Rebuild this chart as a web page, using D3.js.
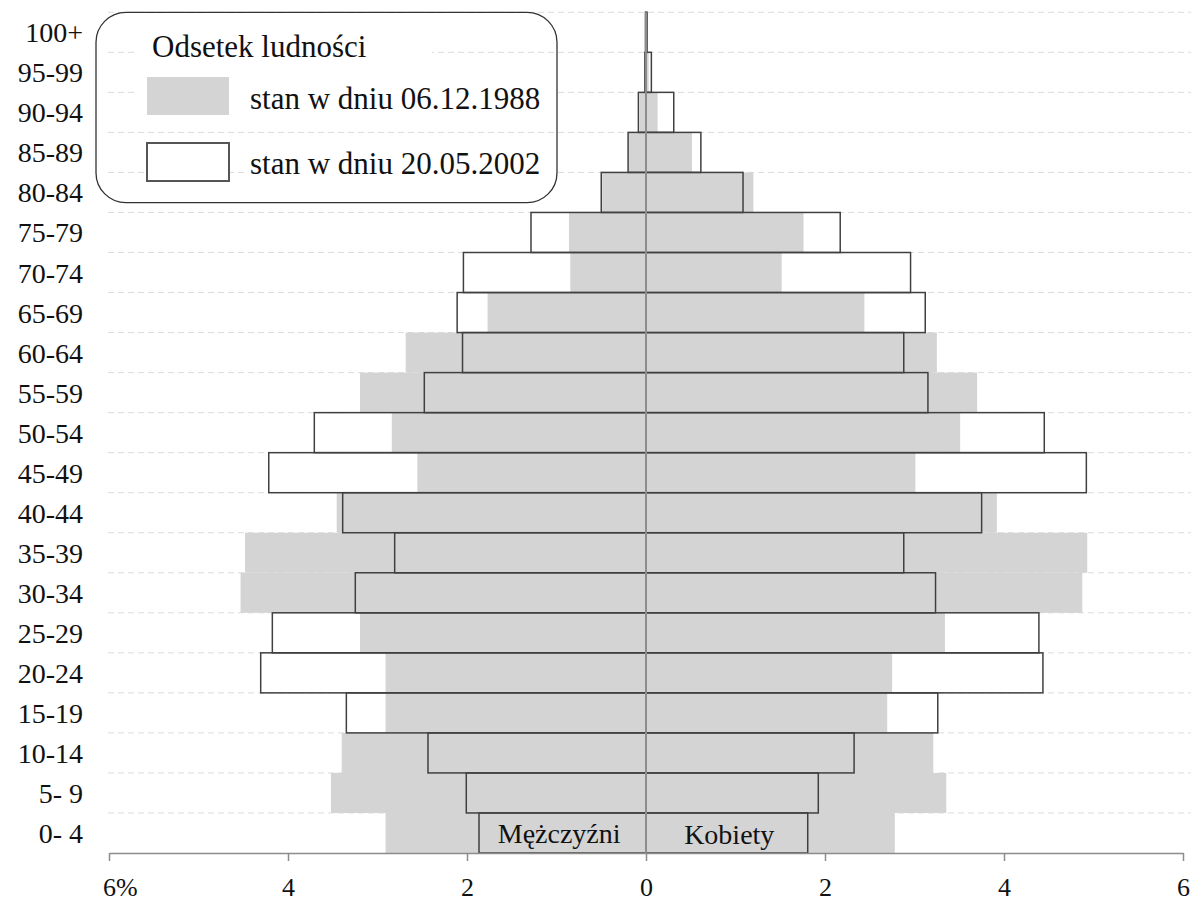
<!DOCTYPE html>
<html><head><meta charset="utf-8">
<script src="https://cdn.jsdelivr.net/npm/d3@7"></script>
<style>
body{margin:0;background:#fff}
svg{display:block;background:#fff}
text{font-family:"Liberation Serif","Times New Roman",serif;fill:#111}
</style>
</head><body>
<svg id="c" width="1191" height="906"></svg>
<script>
// ---- data ----
const ageGroups = ["0- 4","5- 9","10-14","15-19","20-24","25-29","30-34","35-39","40-44","45-49",
  "50-54","55-59","60-64","65-69","70-74","75-79","80-84","85-89","90-94","95-99","100+"];
const male1988   = [2.91,3.52,3.40,2.91,2.91,3.195,4.53,4.48,3.456,2.555,2.84,3.195,2.685,1.77,0.846,0.86,0.49,0.19,0.07,0.02,0.005];
const female1988 = [2.78,3.355,3.21,2.695,2.75,3.34,4.875,4.93,3.92,3.01,3.51,3.70,3.25,2.44,1.516,1.76,1.20,0.513,0.13,0.03,0.005];
const male2002   = [1.866,2.008,2.436,3.348,4.305,4.175,3.248,2.808,3.389,4.215,3.706,2.477,2.05,2.11,2.04,1.285,0.50,0.20,0.085,0.012,0.006];
const female2002 = [1.807,1.925,2.325,3.26,4.435,4.39,3.235,2.88,3.75,4.92,4.45,3.15,2.88,3.12,2.956,2.17,1.084,0.613,0.31,0.06,0.012];
const xTicks = [-6,-4,-2,0,2,4,6];
const legendTitle = "Odsetek ludności";
const seriesLabels = ["stan w dniu 06.12.1988","stan w dniu 20.05.2002"];
const sexLabels = ["Mężczyźni","Kobiety"];

// ---- layout ----
const svg = d3.select("#c");
const x = d3.scaleLinear().domain([-6,6]).range([109,1183]);
const y = d3.scaleBand().domain(ageGroups.slice().reverse()).range([12.3,853]).padding(0);
const bw = y.bandwidth();
const rows = ageGroups.map((a,i)=>({age:a,m88:male1988[i],f88:female1988[i],m02:male2002[i],f02:female2002[i]}));

// gridlines
const bounds = ageGroups.map(a=>y(a));
svg.append("g").selectAll("line").data(bounds).join("line")
  .attr("x1",108).attr("x2",1191).attr("y1",d=>d).attr("y2",d=>d)
  .attr("stroke","#dcdcdc").attr("stroke-width",1).attr("stroke-dasharray","6,4");

// 1988 gray bars
const g88 = svg.append("g").attr("fill","#d4d4d4");
g88.selectAll("rect.m").data(rows).join("rect").attr("class","m")
  .attr("x",d=>x(-d.m88)).attr("width",d=>x(0)-x(-d.m88))
  .attr("y",d=>y(d.age)).attr("height",bw);
g88.selectAll("rect.f").data(rows).join("rect").attr("class","f")
  .attr("x",x(0)).attr("width",d=>x(d.f88)-x(0))
  .attr("y",d=>y(d.age)).attr("height",bw);

// 2002 outline bars
const g02 = svg.append("g").attr("fill","none").attr("stroke","#404040").attr("stroke-width",1.5);
g02.selectAll("rect.m").data(rows).join("rect").attr("class","m")
  .attr("x",d=>x(-d.m02)).attr("width",d=>x(0)-x(-d.m02))
  .attr("y",d=>y(d.age)).attr("height",bw);
g02.selectAll("rect.f").data(rows).join("rect").attr("class","f")
  .attr("x",x(0)).attr("width",d=>x(d.f02)-x(0))
  .attr("y",d=>y(d.age)).attr("height",bw);

// center line
svg.append("line").attr("x1",x(0)).attr("x2",x(0)).attr("y1",y.range()[0]).attr("y2",y.range()[1])
  .attr("stroke","#8c8c8c").attr("stroke-width",2);

// x axis
const ax = svg.append("g").attr("transform","translate(0,853)")
  .call(d3.axisBottom(x).tickValues(xTicks).tickSize(8).tickSizeOuter(0)
    .tickFormat(d=>Math.abs(d)+(d===-6?"%":"")));
ax.select(".domain").attr("stroke","#8c8c8c").attr("stroke-width",1.5);
ax.selectAll(".tick line").attr("stroke","#8c8c8c").attr("stroke-width",1.5);
ax.selectAll(".tick text").attr("y",43).attr("dy",0)
  .attr("font-size",26).attr("font-family",'"Liberation Serif",serif').attr("fill","#111")
  .attr("text-anchor",d=>d===-6?"start":"middle").attr("dx",d=>d===-6?"-0.25em":0);

// age labels
svg.append("g").selectAll("text").data(ageGroups).join("text")
  .attr("x",83).attr("y",d=>y(d)+bw/2+10).attr("text-anchor","end")
  .attr("font-size",28).text(d=>d);

// sex labels
svg.append("text").attr("x",x(-0.97)).attr("y",843).attr("text-anchor","middle").attr("font-size",28).text(sexLabels[0]);
svg.append("text").attr("x",x(0.93)).attr("y",844).attr("text-anchor","middle").attr("font-size",28).text(sexLabels[1]);

// legend
const lg = svg.append("g");
lg.append("rect").attr("x",138).attr("y",32).attr("width",294).attr("height",30).attr("fill","#fff");
lg.append("rect").attr("x",138).attr("y",70).attr("width",418).attr("height",50).attr("fill","#fff");
lg.append("rect").attr("x",247).attr("y",148).attr("width",309).attr("height",40).attr("fill","#fff");
lg.append("rect").attr("x",96).attr("y",12.3).attr("width",461).attr("height",190.4).attr("rx",30).attr("ry",30)
  .attr("fill","none").attr("stroke","#333").attr("stroke-width",1.3);
lg.append("text").attr("x",152).attr("y",57).attr("font-size",31).text(legendTitle);
lg.append("rect").attr("x",147).attr("y",77).attr("width",82).attr("height",38).attr("fill","#d4d4d4");
lg.append("rect").attr("x",147).attr("y",143).attr("width",82).attr("height",38).attr("fill","#fff")
  .attr("stroke","#555").attr("stroke-width",2);
lg.append("text").attr("x",250).attr("y",109).attr("font-size",31).text(seriesLabels[0]);
lg.append("text").attr("x",250).attr("y",174).attr("font-size",31).text(seriesLabels[1]);
</script>
</body></html>
